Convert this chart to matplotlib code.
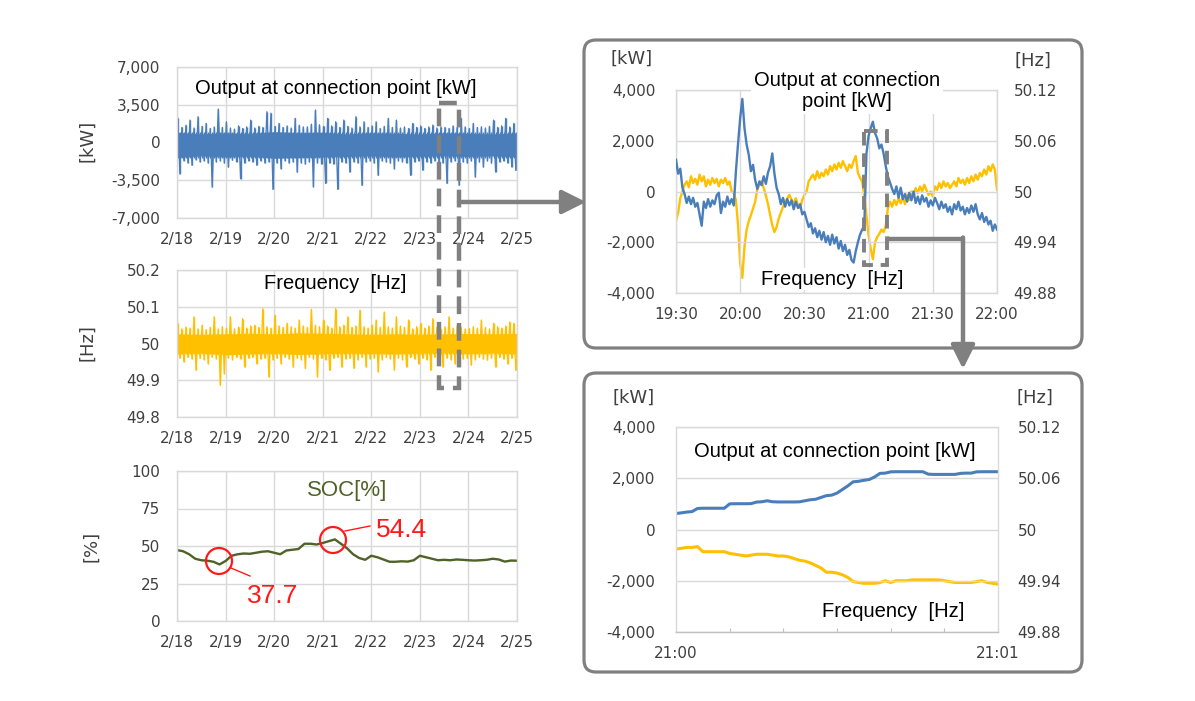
import numpy as np
import matplotlib
matplotlib.use("Agg")
import matplotlib.pyplot as plt
from matplotlib.patches import FancyBboxPatch, Rectangle, Circle

# ---------------- data ----------------
day_labels = ["2/18", "2/19", "2/20", "2/21", "2/22", "2/23", "2/24", "2/25"]

# weekly output at connection point [kW]: 2-hour envelope (max / min)
out_hi = [2240, 1400, 1600, 2080, 1350, 2400, 1500, 1770, 1300, 1450, 3110, 1400,
          1930, 1350, 1250, 1550, 1300, 1450, 2080, 1350, 1500, 1400, 2860, 2720,
          1500, 1770, 1400, 1550, 1350, 2240, 1600, 1450, 1460, 1700, 3020, 1650,
          1500, 2240, 1550, 1930, 1400, 2080, 1500, 1350, 2400, 1450, 1930, 1400,
          1550, 1930, 1300, 1500, 2240, 1400, 2080, 1350, 1450, 1300, 1770, 1400,
          1550, 1300, 1450, 1620, 1350, 1460, 1400, 1300, 1550, 1400, 2240, 1450,
          1300, 1770, 1400, 1460, 1350, 1500, 2080, 1400, 1550, 2240, 1450, 1770]
out_lo = [-2900, -1700, -1900, -2120, -1600, -1800, -1700, -1900, -4130, -1800, -1700, -1900,
          -2290, -1650, -1800, -3360, -1900, -1700, -1800, -2110, -1700, -1900, -1800, -4350,
          -1900, -2430, -1700, -1900, -1800, -2740, -1900, -2000, -1800, -4100, -1900, -2000,
          -3800, -1900, -2000, -4350, -1800, -1900, -2740, -1800, -1900, -3980, -1800, -1700,
          -1900, -3050, -1700, -1800, -1900, -2430, -1700, -1800, -1900, -3050, -1800, -1700,
          -2580, -1800, -1900, -1700, -1800, -1900, -3800, -1800, -1700, -3980, -1800, -1900,
          -1700, -3200, -1800, -2270, -1700, -1900, -2740, -1800, -1700, -1900, -2270, -2580]
# dense core band, 12-hour resolution
out_core_hi = [950, 800, 900, 850, 1000, 900, 950, 800, 900, 850, 800, 900, 850, 800, 900]
out_core_lo = [-1400, -1250, -1350, -1300, -1450, -1400, -1350, -1300, -1250, -1350, -1300, -1250, -1300, -1250, -1350]

# weekly frequency [Hz]: 2-hour envelope
freq_hi = [50.055, 50.040, 50.045, 50.042, 50.073, 50.040, 50.050, 50.038, 50.044, 50.073, 50.040, 50.046,
           50.042, 50.073, 50.040, 50.045, 50.068, 50.042, 50.048, 50.050, 50.044, 50.095, 50.046, 50.042,
           50.077, 50.048, 50.044, 50.055, 50.046, 50.042, 50.064, 50.048, 50.044, 50.093, 50.050, 50.046,
           50.064, 50.048, 50.042, 50.095, 50.046, 50.050, 50.073, 50.044, 50.048, 50.091, 50.046, 50.042,
           50.050, 50.064, 50.044, 50.086, 50.046, 50.042, 50.073, 50.048, 50.044, 50.064, 50.040, 50.046,
           50.055, 50.042, 50.048, 50.068, 50.044, 50.040, 50.046, 50.073, 50.042, 50.048, 50.044, 50.040,
           50.041, 50.046, 50.042, 50.064, 50.044, 50.040, 50.055, 50.046, 50.042, 50.048, 50.059, 50.055]
freq_lo = [49.960, 49.950, 49.962, 49.958, 49.927, 49.960, 49.956, 49.945, 49.962, 49.958, 49.886, 49.918,
           49.960, 49.956, 49.962, 49.958, 49.936, 49.960, 49.962, 49.945, 49.958, 49.960, 49.909, 49.956,
           49.960, 49.945, 49.962, 49.958, 49.936, 49.960, 49.956, 49.932, 49.962, 49.958, 49.909, 49.960,
           49.956, 49.927, 49.960, 49.962, 49.936, 49.958, 49.960, 49.932, 49.956, 49.962, 49.936, 49.958,
           49.960, 49.923, 49.956, 49.962, 49.958, 49.927, 49.960, 49.956, 49.936, 49.962, 49.958, 49.945,
           49.960, 49.956, 49.927, 49.962, 49.958, 49.936, 49.960, 49.956, 49.945, 49.962, 49.958, 49.960,
           49.941, 49.956, 49.962, 49.958, 49.955, 49.960, 49.936, 49.962, 49.958, 49.945, 49.960, 49.927]
freq_core_hi = [50.026, 50.024, 50.026, 50.028, 50.026, 50.029, 50.028, 50.026, 50.024, 50.026, 50.025, 50.026, 50.027, 50.026, 50.028]
freq_core_lo = [49.972, 49.974, 49.969, 49.972, 49.974, 49.970, 49.972, 49.974, 49.973, 49.972, 49.974, 49.975, 49.973, 49.974, 49.972]

# SOC [%], every 3 hours
soc = [47.3, 46.5, 44.5, 41.5, 40.5, 40.2, 39.5, 37.7, 40.0, 43.5, 44.5, 45.0, 44.8, 45.5, 46.2, 46.5,
       45.5, 44.5, 47.0, 47.5, 48.0, 51.5, 51.5, 51.0, 52.0, 53.2, 54.4, 51.5, 48.5, 44.5, 42.0, 40.8,
       43.5, 42.5, 41.0, 39.5, 39.5, 39.8, 39.6, 40.5, 43.5, 42.5, 41.5, 40.5, 40.8, 40.5, 41.0, 40.8,
       40.5, 40.3, 40.5, 40.8, 41.5, 41.0, 39.6, 40.3, 40.2]
soc_min_val = 37.7
soc_max_val = 54.4

# 19:30-22:00, one value per minute
zoom1_labels = ["19:30", "20:00", "20:30", "21:00", "21:30", "22:00"]
zoom1_kw = [1250, 700, 900, 150, -100, -450, -200, -500, -250, -600,
            -450, -900, -1350, -400, -650, -300, -600, -350, -500, -150,
            -50, -850, -400, -600, -200, -500, -300, -550, 800, 1900,
            2900, 3650, 2500, 1850, 1450, 800, 1050, 450, 100, 400,
            250, 600, 300, 750, 1000, 1500, 700, 150, -100, -500,
            -250, -600, -300, -550, -350, -700, -400, -650, -500, -900,
            -800, -1100, -1400, -1250, -1650, -1450, -1800, -1550, -1900, -1600,
            -2000, -1750, -2100, -1700, -2050, -1800, -2250, -1950, -2350, -2100,
            -2500, -2300, -2700, -2800, -2350, -2000, -1700, -1500, -1350, 1500,
            2200, 2500, 2750, 2300, 2100, 1700, 1850, 1500, 1000, 600,
            350, 100, -100, 200, -250, 150, -300, -100, -400, -50,
            -350, 0, -450, -200, -500, -150, -400, -250, -600, -350,
            -550, -250, -450, -700, -400, -650, -500, -800, -600, -900,
            -500, -700, -400, -750, -600, -900, -650, -850, -550, -800,
            -500, -900, -1100, -850, -1200, -1000, -1300, -1150, -1550, -1300,
            -1500]
zoom1_hz = [49.965, 49.975, 49.992, 50.000, 50.008, 50.012, 50.005, 50.018, 50.010, 50.015,
            50.008, 50.020, 50.012, 50.018, 50.006, 50.014, 50.008, 50.016, 50.010, 50.015,
            50.006, 50.014, 50.010, 50.016, 50.008, 50.012, 50.000, 49.998, 49.990, 49.960,
            49.915, 49.898, 49.935, 49.955, 49.965, 49.972, 49.980, 49.988, 50.003, 50.008,
            50.012, 50.004, 49.995, 49.985, 49.972, 49.960, 49.952, 49.958, 49.968, 49.975,
            49.982, 49.988, 49.992, 49.996, 49.990, 49.986, 49.992, 49.984, 49.980, 49.990,
            49.996, 50.000, 50.012, 50.016, 50.020, 50.014, 50.024, 50.016, 50.022, 50.018,
            50.026, 50.020, 50.030, 50.024, 50.032, 50.026, 50.034, 50.028, 50.036, 50.030,
            50.024, 50.032, 50.028, 50.036, 50.042, 50.022, 50.016, 50.012, 49.994, 49.972,
            49.948, 49.932, 49.920, 49.940, 49.946, 49.950, 49.955, 49.952, 49.960, 49.980,
            49.988, 49.982, 49.990, 49.984, 49.992, 49.986, 49.994, 49.985, 49.996, 49.990,
            50.000, 49.994, 50.004, 49.998, 50.006, 50.000, 50.008, 50.002, 49.996, 50.000,
            49.994, 50.006, 50.002, 50.010, 50.004, 50.012, 50.006, 50.010, 50.004, 50.008,
            50.012, 50.006, 50.016, 50.010, 50.014, 50.008, 50.016, 50.010, 50.018, 50.012,
            50.020, 50.014, 50.022, 50.018, 50.026, 50.020, 50.030, 50.024, 50.032, 50.026,
            50.002]

# 21:00-21:01, one value per second
zoom2_labels = ["21:00", "", "", "", "", "", "21:01"]
zoom2_kw = [624, 650, 680, 700, 820, 830, 830, 830, 830, 830,
            1000, 1006, 1006, 1006, 1010, 1070, 1083, 1120, 1083, 1075,
            1075, 1075, 1075, 1080, 1120, 1160, 1180, 1250, 1320, 1340,
            1420, 1560, 1700, 1860, 1880, 1920, 1950, 2050, 2190, 2200,
            2250, 2255, 2255, 2255, 2255, 2255, 2255, 2160, 2150, 2150,
            2150, 2150, 2150, 2190, 2200, 2200, 2250, 2255, 2255, 2255,
            2255]
zoom2_hz = [49.977, 49.978, 49.979, 49.979, 49.980, 49.974, 49.974, 49.974, 49.974, 49.974,
            49.972, 49.971, 49.970, 49.969, 49.970, 49.971, 49.971, 49.971, 49.970, 49.969,
            49.969, 49.968, 49.966, 49.964, 49.963, 49.961, 49.958, 49.955, 49.950, 49.950,
            49.949, 49.947, 49.944, 49.939, 49.938, 49.937, 49.937, 49.937, 49.938, 49.940,
            49.938, 49.940, 49.940, 49.940, 49.941, 49.941, 49.941, 49.941, 49.941, 49.941,
            49.940, 49.939, 49.938, 49.938, 49.938, 49.938, 49.939, 49.940, 49.938, 49.937,
            49.936]

# ---------------- style ----------------
W, H = 1195, 701
BLUE = "#4a7ebb"
YEL = "#ffc000"
GREEN = "#4f6228"
RED = "#ff1a1a"
GRID = "#d9d9d9"
TXT = "#404040"
GRAYL = "#808080"
TICKFONT = "DejaVu Sans"
LABFONT = "Liberation Sans"
TFS = 11      # tick font size
LFS = 14.5    # in-chart label font size
UFS = 13      # unit label font size

fig = plt.figure(figsize=(W / 100, H / 100), dpi=100)
fig.patch.set_facecolor("white")


def rect(l, t, r, b):
    return [l / W, 1 - b / H, (r - l) / W, (b - t) / H]


def style_axes(ax, ylim, yticks, ylabels, xlim, xticks, xlabels, xgrid=True):
    ax.set_xlim(*xlim)
    ax.set_ylim(*ylim)
    ax.set_yticks(yticks)
    ax.set_yticklabels(ylabels, fontfamily=TICKFONT, fontsize=TFS, color=TXT)
    ax.set_xticks(xticks)
    ax.set_xticklabels(xlabels, fontfamily=TICKFONT, fontsize=TFS, color=TXT)
    ax.tick_params(length=0, pad=12)
    ax.tick_params(axis="x", pad=10)
    ax.grid(True, axis="y", color=GRID, lw=1)
    if xgrid:
        ax.grid(True, axis="x", color=GRID, lw=1)
    for s in ax.spines.values():
        s.set_color(GRID)
        s.set_linewidth(1)
    ax.set_axisbelow(True)


def zigzag(ax, hi, lo, core_hi, core_lo, color):
    """Noisy weekly trace drawn from its 2-hour max/min envelope."""
    n = len(hi)
    step = 7 / n
    t_hi = np.arange(n) * step + 0.2 * step
    t_lo = np.arange(n) * step + 0.7 * step
    xs = np.empty(2 * n)
    ys = np.empty(2 * n)
    xs[0::2], xs[1::2] = t_hi, t_lo
    ys[0::2], ys[1::2] = hi, lo
    core_t = np.linspace(0, 7, len(core_hi))
    ax.fill_between(core_t, core_lo, core_hi, color=color, lw=0)
    ax.plot(xs, ys, color=color, lw=0.9)
    ax.vlines(t_hi, core_lo[0], hi, color=color, lw=1.0)
    ax.vlines(t_lo, lo, core_hi[0], color=color, lw=1.0)


days = np.arange(8)

# ---- panel 1: output ----
ax1 = fig.add_axes(rect(177, 67, 517, 218))
style_axes(ax1, (-7000, 7000), [-7000, -3500, 0, 3500, 7000],
           ["-7,000", "-3,500", "0", "3,500", "7,000"], (0, 7), days, day_labels)
zigzag(ax1, out_hi, out_lo, out_core_hi, out_core_lo, BLUE)
ax1.text(3.27, 5050, "Output at connection point [kW]", ha="center", va="center",
         fontfamily=LABFONT, fontsize=LFS, color="black")
fig.text(87 / W, 1 - 141 / H, "[kW]", rotation=90, ha="center", va="center",
         fontfamily=TICKFONT, fontsize=UFS, color=TXT)

# ---- panel 2: frequency ----
ax2 = fig.add_axes(rect(177, 270, 517, 417))
style_axes(ax2, (49.8, 50.2), [49.8, 49.9, 50.0, 50.1, 50.2],
           ["49.8", "49.9", "50", "50.1", "50.2"], (0, 7), days, day_labels)
zigzag(ax2, freq_hi, freq_lo, freq_core_hi, freq_core_lo, YEL)
ax2.text(3.25, 50.162, "Frequency  [Hz]", ha="center", va="center",
         fontfamily=LABFONT, fontsize=LFS, color="black")
fig.text(87 / W, 1 - 343 / H, "[Hz]", rotation=90, ha="center", va="center",
         fontfamily=TICKFONT, fontsize=UFS, color=TXT)

# ---- panel 3: SOC ----
ax3 = fig.add_axes(rect(177, 471, 517, 621))
style_axes(ax3, (0, 100), [0, 25, 50, 75, 100], ["0", "25", "50", "75", "100"],
           (0, 7), days, day_labels)
soc_t = np.linspace(0, 7, len(soc))
ax3.plot(soc_t, soc, color=GREEN, lw=1.7)
ax3.text(3.5, 87, "SOC[%]", ha="center", va="center", fontfamily=LABFONT,
         fontsize=16, color=GREEN)
fig.text(91 / W, 1 - 546 / H, "[%]", rotation=90, ha="center", va="center",
         fontfamily=TICKFONT, fontsize=UFS, color=TXT)

# ---- top right ----
ax4 = fig.add_axes(rect(676, 90, 997, 293))
m1 = np.arange(len(zoom1_kw))
style_axes(ax4, (-4000, 4000), [-4000, -2000, 0, 2000, 4000],
           ["-4,000", "-2,000", "0", "2,000", "4,000"], (0, 150),
           np.arange(0, 151, 30), zoom1_labels)
ax4.tick_params(axis="y", pad=15)
ax4.tick_params(axis="x", pad=10)
ax4b = ax4.twinx()
ax4b.set_ylim(49.88, 50.12)
ax4b.set_yticks([49.88, 49.94, 50.0, 50.06, 50.12])
ax4b.set_yticklabels(["49.88", "49.94", "50", "50.06", "50.12"],
                     fontfamily=TICKFONT, fontsize=TFS, color=TXT)
ax4b.tick_params(length=0, pad=12)
for s in ax4b.spines.values():
    s.set_visible(False)
ax4b.plot(m1, zoom1_hz, color=YEL, lw=1.7, zorder=2)
ax4.set_zorder(ax4b.get_zorder() + 1)
ax4.patch.set_visible(False)
ax4.plot(m1, zoom1_kw, color=BLUE, lw=1.7, zorder=3)
ax4.text(80, 3950, "Output at connection\npoint [kW]", ha="center", va="center",
         fontfamily=LABFONT, fontsize=LFS, linespacing=1.15, zorder=5,
         bbox=dict(facecolor="white", edgecolor="none", pad=2))
ax4.text(73, -3450, "Frequency  [Hz]", ha="center", va="center",
         fontfamily=LABFONT, fontsize=LFS, zorder=5,
         bbox=dict(facecolor="white", edgecolor="none", pad=1))
fig.text(632 / W, 1 - 59 / H, "[kW]", ha="center", va="center",
         fontfamily=TICKFONT, fontsize=UFS, color=TXT)
fig.text(1033 / W, 1 - 61 / H, "[Hz]", ha="center", va="center",
         fontfamily=TICKFONT, fontsize=UFS, color=TXT)

# ---- bottom right ----
ax5 = fig.add_axes(rect(676, 427, 998, 632))
s2 = np.arange(len(zoom2_kw))
style_axes(ax5, (-4000, 4000), [-4000, -2000, 0, 2000, 4000],
           ["-4,000", "-2,000", "0", "2,000", "4,000"], (0, 60),
           np.arange(0, 61, 10), zoom2_labels, xgrid=False)
ax5.tick_params(axis="y", pad=15)
ax5.tick_params(axis="x", pad=10)
ax5.tick_params(axis="x", length=3, direction="in", color="#bfbfbf")
ax5.spines["bottom"].set_color("#bfbfbf")
ax5b = ax5.twinx()
ax5b.set_ylim(49.88, 50.12)
ax5b.set_yticks([49.88, 49.94, 50.0, 50.06, 50.12])
ax5b.set_yticklabels(["49.88", "49.94", "50", "50.06", "50.12"],
                     fontfamily=TICKFONT, fontsize=TFS, color=TXT)
ax5b.tick_params(length=0, pad=14)
for s in ax5b.spines.values():
    s.set_visible(False)
ax5b.plot(s2, zoom2_hz, color=YEL, lw=2.2)
ax5.set_zorder(ax5b.get_zorder() + 1)
ax5.patch.set_visible(False)
ax5.plot(s2, zoom2_kw, color=BLUE, lw=2.2)
ax5.text(29.5, 3050, "Output at connection point [kW]", ha="center", va="center",
         fontfamily=LABFONT, fontsize=LFS)
ax5.text(40.5, -3200, "Frequency  [Hz]", ha="center", va="center",
         fontfamily=LABFONT, fontsize=LFS)
fig.text(634 / W, 1 - 398 / H, "[kW]", ha="center", va="center",
         fontfamily=TICKFONT, fontsize=UFS, color=TXT)
fig.text(1035 / W, 1 - 398 / H, "[Hz]", ha="center", va="center",
         fontfamily=TICKFONT, fontsize=UFS, color=TXT)

# ---- overlay (boxes, arrows, annotations) in pixel coords ----
ov = fig.add_axes([0, 0, 1, 1], zorder=20)
ov.set_xlim(0, W)
ov.set_ylim(H, 0)
ov.axis("off")
ov.patch.set_visible(False)

for (x0, y0, w, h) in [(584, 40, 498, 308), (584, 373, 498, 299)]:
    ov.add_patch(FancyBboxPatch((x0, y0), w, h, boxstyle="round,pad=0,rounding_size=12",
                                fill=False, ec=GRAYL, lw=2.3))

# dashed selection boxes
ov.add_patch(Rectangle((439, 103), 20, 285, fill=False, ec=GRAYL, lw=3.2,
                       linestyle=(0, (4, 2))))
ov.add_patch(Rectangle((864, 131), 23, 134, fill=False, ec=GRAYL, lw=2.8,
                       linestyle=(0, (3.5, 2))))

# arrows
ov.annotate("", xy=(586, 202), xytext=(459, 202),
            arrowprops=dict(arrowstyle="-|>,head_length=0.9,head_width=0.45",
                            lw=3.2, color=GRAYL, mutation_scale=16, shrinkA=0, shrinkB=0))
ov.plot([888, 963], [239, 239], color=GRAYL, lw=3.2, solid_capstyle="butt")
ov.annotate("", xy=(963, 369), xytext=(963, 237.5),
            arrowprops=dict(arrowstyle="-|>,head_length=0.9,head_width=0.45",
                            lw=3.2, color=GRAYL, mutation_scale=16, shrinkA=0, shrinkB=0))

# SOC annotations
ov.add_patch(Circle((219, 561), 13, fill=False, ec=RED, lw=1.6))
ov.add_patch(Circle((333, 540), 13, fill=False, ec=RED, lw=1.6))
ov.plot([231, 250], [568, 576], color=RED, lw=1)
ov.plot([345, 370], [531, 526], color=RED, lw=1)
ov.text(273, 596, f"{soc_min_val}", color=RED, fontsize=19, fontfamily=LABFONT,
        ha="center", va="center")
ov.text(402, 530, f"{soc_max_val}", color=RED, fontsize=19, fontfamily=LABFONT,
        ha="center", va="center")

fig.savefig("out.png", dpi=100)
